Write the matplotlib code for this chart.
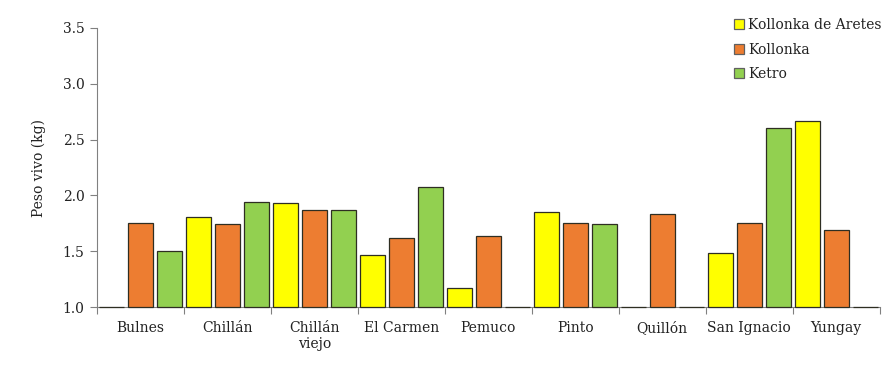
import matplotlib
matplotlib.use("Agg")
import matplotlib.pyplot as plt
import numpy as np

# Data
categories = ["Bulnes", "Chillán", "Chillán\nviejo", "El Carmen", "Pemuco",
              "Pinto", "Quillón", "San Ignacio", "Yungay"]
series_names = ["Kollonka de Aretes", "Kollonka", "Ketro"]
kollonka_aretes = [1.0, 1.81, 1.93, 1.47, 1.17, 1.85, 1.0, 1.48, 2.67]
kollonka = [1.75, 1.74, 1.87, 1.62, 1.64, 1.75, 1.83, 1.75, 1.69]
ketro = [1.50, 1.94, 1.87, 2.08, 1.0, 1.74, 1.0, 2.60, 1.0]
colors = ["#FFFF00", "#ED7D31", "#92D050"]

plt.rcParams["font.family"] = ["DejaVu Serif"]
fs = 10

fig = plt.figure(figsize=(8.94, 3.66), dpi=100)
ax = fig.add_axes([0.1085, 0.161, 0.8755, 0.7625])

x = np.arange(len(categories))
base = 1.0
w = 0.29
offsets = [-1/3, 0, 1/3]
for vals, name, col, off in zip([kollonka_aretes, kollonka, ketro], series_names, colors, offsets):
    heights = np.array(vals) - base
    ax.bar(x + off, heights, width=w, bottom=base, color=col, edgecolor="#2e2e22",
           linewidth=0.9, label=name, zorder=3, clip_on=False)

ax.set_xlim(-0.5, len(categories) - 0.5)
ax.set_ylim(1.0, 3.5)
yt = np.arange(1.0, 3.51, 0.5)
ax.set_yticks(yt)
ax.set_yticklabels([f"{v:.1f}" for v in yt], fontsize=fs, color="#222222")
ax.set_xticks(np.arange(-0.5, len(categories), 1.0))
ax.set_xticklabels([])
ax.set_xticks(x, minor=True)
ax.set_xticklabels(categories, minor=True, fontsize=fs, color="#222222")
ax.tick_params(axis="x", which="minor", length=0, pad=10)
ax.tick_params(axis="x", which="major", length=5, color="#808080", direction="out")
ax.tick_params(axis="y", length=5, color="#808080", direction="out", pad=4)
for s in ["top", "right"]:
    ax.spines[s].set_visible(False)
for s in ["left", "bottom"]:
    ax.spines[s].set_color("#808080")
ax.set_ylabel("Peso vivo (kg)", fontsize=fs, labelpad=12, color="#222222")

leg = ax.legend(loc="upper left", bbox_to_anchor=(0.798, 1.08), frameon=False,
                fontsize=fs, handlelength=0.7, handleheight=0.7, handletextpad=0.3,
                labelspacing=0.75)
for h in leg.legend_handles:
    h.set_edgecolor("#606060")
for t in leg.get_texts():
    t.set_color("#222222")

fig.savefig("out.png", dpi=100)
